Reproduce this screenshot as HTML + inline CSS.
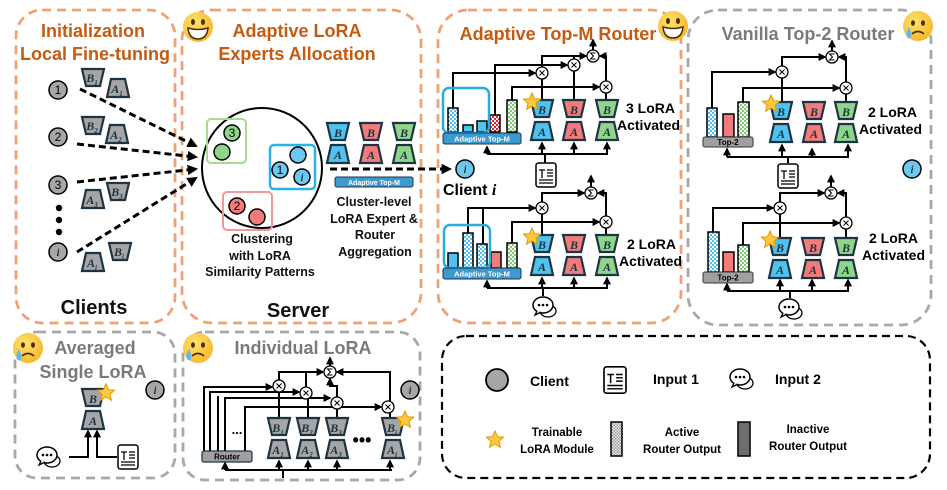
<!DOCTYPE html>
<html><head><meta charset="utf-8"><style>
html,body{margin:0;padding:0;background:#fff;width:947px;height:490px;overflow:hidden}
svg{display:block;font-family:"Liberation Sans",sans-serif}
.ob{fill:none;stroke:#F0A276;stroke-width:2.8;stroke-dasharray:9 6}
.gb{fill:none;stroke:#A8A8A8;stroke-width:2.8;stroke-dasharray:9 6}
.t1{font-weight:bold;fill:#C55A11;font-size:18px;text-anchor:middle}
.tg{font-weight:bold;fill:#7a7a7a;font-size:18px;text-anchor:middle}
.bk{font-weight:bold;fill:#111;text-anchor:middle}
.L{font-family:"Liberation Serif",serif;font-style:italic;font-weight:bold;font-size:12px;fill:#1e3442;text-anchor:middle}
.c{fill:none;stroke:#000;stroke-width:2}
.ca{fill:none;stroke:#000;stroke-width:2;marker-end:url(#ah)}
.bar{stroke:#000;stroke-width:1.5}
use.tr{stroke:#1e3442;stroke-width:2.2}
</style></head><body>
<svg width="947" height="490" viewBox="0 0 947 490" xmlns="http://www.w3.org/2000/svg">
<defs>
<marker id="ah" viewBox="0 0 10 10" refX="8" refY="5" markerWidth="4" markerHeight="4" orient="auto"><path d="M0,0 L10,5 L0,10z" fill="#000"/></marker>
<marker id="ahb" viewBox="0 0 10 10" refX="8" refY="5" markerWidth="3.5" markerHeight="3.5" orient="auto"><path d="M0,0 L10,5 L0,10z" fill="#000"/></marker>
<polygon id="tB" points="0,0 22,0 18,17 4,17"/>
<polygon id="tA" points="4,0 18,0 22,18 0,18"/>
<pattern id="pb" width="4" height="4" patternUnits="userSpaceOnUse"><rect width="4" height="4" fill="#fff"/><rect width="2" height="2" fill="#4fc3ee"/><rect x="2" y="2" width="2" height="2" fill="#4fc3ee"/></pattern>
<pattern id="pr" width="4" height="4" patternUnits="userSpaceOnUse"><rect width="4" height="4" fill="#fff"/><rect width="2" height="2" fill="#e8202a"/><rect x="2" y="2" width="2" height="2" fill="#e8202a"/></pattern>
<pattern id="pg" width="4" height="4" patternUnits="userSpaceOnUse"><rect width="4" height="4" fill="#fff"/><rect width="2" height="2" fill="#7ccf74"/><rect x="2" y="2" width="2" height="2" fill="#7ccf74"/></pattern>
<pattern id="pk" width="3" height="3" patternUnits="userSpaceOnUse"><rect width="3" height="3" fill="#eee"/><rect width="1.5" height="1.5" fill="#999"/><rect x="1.5" y="1.5" width="1.5" height="1.5" fill="#999"/></pattern>
<g id="mul"><circle r="6" fill="#fff" stroke="#000" stroke-width="1.3"/><path d="M-2.5,-2.5 L2.5,2.5 M2.5,-2.5 L-2.5,2.5" stroke="#000" stroke-width="1"/></g>
<g id="sig"><circle r="6" fill="#fff" stroke="#000" stroke-width="1.3"/><path d="M2.5,-3 H-2.5 L0.5,0 L-2.5,3 H2.5" fill="none" stroke="#000" stroke-width="1"/></g>
<g id="star"><polygon points="0,-9 2.6,-3.2 8.6,-2.8 4,1.2 5.4,7.3 0,4 -5.4,7.3 -4,1.2 -8.6,-2.8 -2.6,-3.2" fill="#FFC83D" stroke="#E09A00" stroke-width="1"/></g>
<g id="doc"><rect x="-10" y="-12" width="20" height="24" rx="2.5" fill="#fff" stroke="#000" stroke-width="1.5"/><path d="M-7,-5 H-1 M-4,-5 V3 M1,-5 H7 M1,-2 H7 M1,1 H7 M-7,5 H7 M-7,8 H7" stroke="#000" stroke-width="1.3" fill="none"/></g>
<g id="chat"><ellipse cx="5" cy="6" rx="8" ry="6" fill="#fff" stroke="#000" stroke-width="1.3"/><ellipse cx="0" cy="0" rx="10" ry="8" fill="#fff" stroke="#000" stroke-width="1.5"/><path d="M-6,6 L-8,10 L-2,7" fill="#fff" stroke="#000" stroke-width="1.3"/><circle cx="-4" cy="0" r="1.3"/><circle cx="0" cy="0" r="1.3"/><circle cx="4" cy="0" r="1.3"/></g>
<radialGradient id="yg" cx="0.4" cy="0.35" r="0.7"><stop offset="0" stop-color="#FFE36B"/><stop offset="1" stop-color="#F7B52C"/></radialGradient>
<g id="happy"><circle r="15" fill="url(#yg)"/><ellipse cx="-5" cy="-5" rx="2" ry="3" fill="#4a3000"/><ellipse cx="5" cy="-5" rx="2" ry="3" fill="#4a3000"/><path d="M-10,1 Q0,4 10,1 Q9,12 0,12 Q-9,12 -10,1z" fill="#fff" stroke="#4a3000" stroke-width="1.5"/></g>
<g id="sad"><circle r="15" fill="url(#yg)"/><ellipse cx="-5" cy="-3" rx="2" ry="2.8" fill="#4a3000"/><ellipse cx="5" cy="-3" rx="2" ry="2.8" fill="#4a3000"/><path d="M-6,8 Q0,3 6,8" fill="none" stroke="#4a3000" stroke-width="1.6"/><path d="M-9,1 Q-13,8 -11,11 Q-9,14 -7,11 Q-6,8 -9,1z" fill="#5fb8f0"/></g>
</defs>

<rect class="ob" x="16" y="10" width="159" height="313" rx="26"/>
<rect class="ob" x="182" y="10" width="239" height="313" rx="30"/>
<rect class="ob" x="438" y="10" width="243" height="313" rx="30"/>
<rect class="gb" x="688" y="10" width="243" height="315" rx="30"/>
<rect class="gb" x="15" y="332" width="160" height="146" rx="22"/>
<rect class="gb" x="183" y="332" width="237" height="148" rx="22"/>
<rect x="442" y="336" width="488" height="142" rx="24" fill="none" stroke="#000" stroke-width="2.2" stroke-dasharray="8 5"/>

<text class="t1" x="93" y="37">Initialization</text>
<text class="t1" x="95" y="60">Local Fine-tuning</text>
<g stroke="#000" stroke-width="1.5" fill="#a6a6a6">
<circle cx="58" cy="90" r="9"/><circle cx="58" cy="137" r="9"/><circle cx="58" cy="185" r="9"/><circle cx="58" cy="252" r="9"/>
</g>
<g font-size="12" text-anchor="middle" fill="#000"><text x="58" y="94">1</text><text x="58" y="141">2</text><text x="58" y="189">3</text><text x="58" y="256" font-family="Liberation Serif" font-style="italic">i</text></g>
<circle cx="59" cy="208" r="3.2"/><circle cx="59" cy="220" r="3.2"/><circle cx="59" cy="232" r="3.2"/>
<g fill="#a6a6a6"><use class="tr" href="#tB" x="82" y="69"/><use class="tr" href="#tA" x="107" y="79"/><use class="tr" href="#tB" x="82" y="117"/><use class="tr" href="#tA" x="106" y="125"/><use class="tr" href="#tA" x="82" y="190"/><use class="tr" href="#tB" x="107" y="183"/><use class="tr" href="#tA" x="82" y="253"/><use class="tr" href="#tB" x="109" y="243"/></g>
<g class="L"><text x="92" y="82">B<tspan font-size="7" dy="3">1</tspan></text><text x="117" y="93">A<tspan font-size="7" dy="3">1</tspan></text>
<text x="92" y="130">B<tspan font-size="7" dy="3">2</tspan></text><text x="116" y="139">A<tspan font-size="7" dy="3">2</tspan></text>
<text x="92" y="204">A<tspan font-size="7" dy="3">3</tspan></text><text x="117" y="196">B<tspan font-size="7" dy="3">3</tspan></text>
<text x="92" y="267">A<tspan font-size="7" dy="3">i</tspan></text><text x="119" y="256">B<tspan font-size="7" dy="3">i</tspan></text></g>
<g stroke="#000" stroke-width="3" stroke-dasharray="7 4" fill="none" marker-end="url(#ahb)">
<path d="M80,89 L196,146"/><path d="M77,144 L196,157"/><path d="M77,182 L196,169"/><path d="M77,252 L196,178"/></g>
<text class="bk" x="94" y="314" font-size="20">Clients</text>

<use href="#happy" x="198" y="27"/>
<text class="t1" x="297" y="37">Adaptive LoRA</text>
<text class="t1" x="297" y="60">Experts Allocation</text>
<circle cx="262" cy="168" r="60" fill="none" stroke="#000" stroke-width="2"/>
<rect x="207" y="119" width="39" height="44" rx="4" fill="none" stroke="#A6DB92" stroke-width="2"/>
<rect x="270" y="145" width="45" height="44" rx="4" fill="none" stroke="#28B4EA" stroke-width="2.5"/>
<rect x="223" y="192" width="49" height="38" rx="4" fill="none" stroke="#F0989A" stroke-width="2"/>
<g stroke="#000" stroke-width="1.5">
<circle cx="232" cy="133" r="8" fill="#8fd68a"/><circle cx="222" cy="152" r="8" fill="#8fd68a"/>
<circle cx="298" cy="155" r="8" fill="#6cc8f0"/><circle cx="280" cy="170" r="8" fill="#6cc8f0"/><circle cx="302" cy="177" r="8" fill="#6cc8f0"/>
<circle cx="237" cy="206" r="8" fill="#f37b7b"/><circle cx="257" cy="217" r="8" fill="#f37b7b"/></g>
<g font-size="12" text-anchor="middle"><text x="232" y="137">3</text><text x="280" y="174">1</text><text x="302" y="181" font-family="Liberation Serif" font-style="italic">i</text><text x="237" y="210">2</text></g>
<g class="bk" font-size="12.5"><text x="262" y="243">Clustering</text><text x="260" y="260">with LoRA</text><text x="260" y="276">Similarity Patterns</text></g>
<use class="tr" href="#tB" x="327" y="123" fill="#4fc3ee"/><use class="tr" href="#tA" x="327" y="145" fill="#4fc3ee"/>
<use class="tr" href="#tB" x="360" y="123" fill="#f37b7b"/><use class="tr" href="#tA" x="360" y="145" fill="#f37b7b"/>
<use class="tr" href="#tB" x="393" y="123" fill="#8fd68a"/><use class="tr" href="#tA" x="393" y="145" fill="#8fd68a"/>
<g class="L"><text x="338" y="137">B</text><text x="338" y="159">A</text><text x="371" y="137">B</text><text x="371" y="159">A</text><text x="404" y="137">B</text><text x="404" y="159">A</text></g>
<path d="M330,169 H450" stroke="#000" stroke-width="3" stroke-dasharray="7 4" fill="none" marker-end="url(#ahb)"/>
<rect x="335" y="177" width="78" height="10" rx="2" fill="#3d9ad0" stroke="#1e3442" stroke-width="1"/>
<text x="374" y="185" font-size="7" font-weight="bold" fill="#fff" text-anchor="middle">Adaptive Top-M</text>
<g class="bk" font-size="12.5"><text x="374" y="206">Cluster-level</text><text x="374" y="223">LoRA Expert &amp;</text><text x="375" y="239">Router</text><text x="375" y="256">Aggregation</text></g>
<text class="bk" x="298" y="317" font-size="20">Server</text>

<circle cx="465" cy="169" r="9" fill="#6cc8f0" stroke="#000" stroke-width="1.5"/><text x="465" y="173" font-size="12" font-family="Liberation Serif" font-style="italic" text-anchor="middle">i</text>
<text x="443" y="195" font-size="16" font-weight="bold">Client <tspan font-family="Liberation Serif" font-style="italic">i</tspan></text>

<text class="t1" x="558" y="40" font-size="20">Adaptive Top-M Router</text>
<use href="#happy" x="673" y="26"/>
<path class="ca" d="M453,108 V73 H535"/><path class="ca" d="M495,115 V65 H567"/><path class="ca" d="M512,100 V87 H599"/>
<path class="c" d="M542,100 V79 M574,100 V71 M606,100 V93"/>
<path class="c" d="M542,67 V56 H586 M574,59 V56"/>
<path class="ca" d="M574,56 H586"/><path class="ca" d="M606,81 V56 H600"/><path class="ca" d="M593,50 V40"/>
<use href="#mul" x="542" y="73"/><use href="#mul" x="574" y="65"/><use href="#mul" x="606" y="87"/><use href="#sig" x="593" y="56"/>
<rect x="448" y="108" width="10" height="24" class="bar" fill="url(#pb)"/>
<rect x="463" y="125" width="10" height="7" class="bar" fill="#4fc3ee"/>
<rect x="477" y="121" width="10" height="11" class="bar" fill="#4fc3ee"/>
<rect x="490" y="115" width="10" height="17" class="bar" fill="url(#pr)"/>
<rect x="507" y="100" width="10" height="32" class="bar" fill="url(#pg)"/>
<rect x="443" y="88" width="46" height="45" rx="6" fill="none" stroke="#29abe2" stroke-width="2.5"/>
<rect x="443" y="133" width="78" height="11" rx="2" fill="#3d9ad0" stroke="#1e3442" stroke-width="1"/>
<text x="482" y="141.5" font-size="7.5" font-weight="bold" fill="#fff" text-anchor="middle">Adaptive Top-M</text>
<use class="tr" href="#tB" x="531" y="100" fill="#4fc3ee"/><use class="tr" href="#tA" x="531" y="122" fill="#4fc3ee"/>
<use class="tr" href="#tB" x="563" y="100" fill="#f37b7b"/><use class="tr" href="#tA" x="563" y="122" fill="#f37b7b"/>
<use class="tr" href="#tB" x="596" y="100" fill="#8fd68a"/><use class="tr" href="#tA" x="596" y="122" fill="#8fd68a"/>
<g class="L"><text x="542" y="114">B</text><text x="542" y="136">A</text><text x="574" y="114">B</text><text x="574" y="136">A</text><text x="607" y="114">B</text><text x="607" y="136">A</text></g>
<use href="#star" x="532" y="102"/>
<path class="c" d="M487,154 H608 M545,154 V163"/>
<path class="ca" d="M487,154 V147"/><path class="ca" d="M542,154 V143"/><path class="ca" d="M574,154 V143"/><path class="ca" d="M607,154 V143"/>
<use href="#doc" x="546" y="175"/>
<text x="626" y="113" font-size="14" font-weight="bold">3 LoRA</text><text x="617" y="130" font-size="14" font-weight="bold">Activated</text>
<path class="ca" d="M468,233 V208 H535"/><path class="c" d="M483,244 V208"/><path class="ca" d="M512,243 V222 H599"/>
<path class="c" d="M542,235 V214 M606,235 V228"/>
<path class="ca" d="M542,202 V193 H584"/><path class="ca" d="M606,216 V193 H598"/><path class="ca" d="M591,187 V176"/>
<use href="#mul" x="542" y="208"/><use href="#mul" x="606" y="222"/><use href="#sig" x="591" y="193"/>
<rect x="448" y="253" width="10" height="15" class="bar" fill="#4fc3ee"/>
<rect x="463" y="233" width="10" height="35" class="bar" fill="url(#pb)"/>
<rect x="477" y="244" width="10" height="24" class="bar" fill="url(#pb)"/>
<rect x="491" y="252" width="10" height="16" class="bar" fill="#f37b7b"/>
<rect x="507" y="243" width="10" height="25" class="bar" fill="url(#pg)"/>
<rect x="444" y="225" width="46" height="43" rx="6" fill="none" stroke="#29abe2" stroke-width="2.5"/>
<rect x="443" y="268" width="78" height="11" rx="2" fill="#3d9ad0" stroke="#1e3442" stroke-width="1"/>
<text x="482" y="276.5" font-size="7.5" font-weight="bold" fill="#fff" text-anchor="middle">Adaptive Top-M</text>
<use class="tr" href="#tB" x="531" y="235" fill="#4fc3ee"/><use class="tr" href="#tA" x="531" y="257" fill="#4fc3ee"/>
<use class="tr" href="#tB" x="563" y="235" fill="#f37b7b"/><use class="tr" href="#tA" x="563" y="257" fill="#f37b7b"/>
<use class="tr" href="#tB" x="596" y="235" fill="#8fd68a"/><use class="tr" href="#tA" x="596" y="257" fill="#8fd68a"/>
<g class="L"><text x="542" y="249">B</text><text x="542" y="271">A</text><text x="574" y="249">B</text><text x="574" y="271">A</text><text x="607" y="249">B</text><text x="607" y="271">A</text></g>
<use href="#star" x="532" y="237"/>
<path class="c" d="M487,288 H608 M543,288 V296"/>
<path class="ca" d="M487,288 V281"/><path class="ca" d="M542,288 V278"/><path class="ca" d="M574,288 V278"/><path class="ca" d="M607,288 V278"/>
<use href="#chat" x="543" y="305"/>
<text x="627" y="249" font-size="14" font-weight="bold">2 LoRA</text><text x="619" y="266" font-size="14" font-weight="bold">Activated</text>

<text class="tg" x="808" y="40" font-size="20">Vanilla Top-2 Router</text>
<use href="#sad" x="918" y="26"/>
<path class="ca" d="M712,108 V72 H775"/><path class="ca" d="M743,102 V88 H839"/>
<path class="c" d="M782,102 V78 M846,102 V94"/>
<path class="ca" d="M782,66 V57 H825"/><path class="ca" d="M846,82 V57 H839"/><path class="ca" d="M832,51 V41"/>
<use href="#mul" x="782" y="72"/><use href="#mul" x="846" y="88"/><use href="#sig" x="832" y="57"/>
<rect x="707" y="108" width="10" height="29" class="bar" fill="url(#pb)"/>
<rect x="723" y="114" width="11" height="23" class="bar" fill="#f37b7b"/>
<rect x="738" y="102" width="11" height="35" class="bar" fill="url(#pg)"/>
<rect x="703" y="137" width="50" height="10" rx="2" fill="#a0a0a0" stroke="#333" stroke-width="1"/>
<text x="728" y="145" font-size="8" font-weight="bold" text-anchor="middle">Top-2</text>
<use class="tr" href="#tB" x="770" y="102" fill="#4fc3ee"/><use class="tr" href="#tA" x="770" y="124" fill="#4fc3ee"/>
<use class="tr" href="#tB" x="803" y="102" fill="#f37b7b"/><use class="tr" href="#tA" x="803" y="124" fill="#f37b7b"/>
<use class="tr" href="#tB" x="835" y="102" fill="#8fd68a"/><use class="tr" href="#tA" x="835" y="124" fill="#8fd68a"/>
<g class="L"><text x="781" y="116">B</text><text x="781" y="138">A</text><text x="814" y="116">B</text><text x="814" y="138">A</text><text x="846" y="116">B</text><text x="846" y="138">A</text></g>
<use href="#star" x="771" y="104"/>
<path class="c" d="M727,157 H849 M788,157 V163"/>
<path class="ca" d="M727,157 V149"/><path class="ca" d="M782,157 V145"/><path class="ca" d="M812,157 V149"/><path class="ca" d="M848,157 V145"/>
<use href="#doc" x="788" y="176"/>
<text x="868" y="117" font-size="14" font-weight="bold">2 LoRA</text><text x="859" y="134" font-size="14" font-weight="bold">Activated</text>
<circle cx="912" cy="169" r="9" fill="#6cc8f0" stroke="#000" stroke-width="1.5"/><text x="912" y="173" font-size="12" font-family="Liberation Serif" font-style="italic" text-anchor="middle">i</text>
<path class="ca" d="M713,232 V208 H773"/><path class="ca" d="M743,245 V223 H839"/>
<path class="c" d="M780,238 V214 M846,238 V229"/>
<path class="ca" d="M780,202 V193 H824"/><path class="ca" d="M846,217 V193 H838"/><path class="ca" d="M831,187 V176"/>
<use href="#mul" x="780" y="208"/><use href="#mul" x="846" y="223"/><use href="#sig" x="831" y="193"/>
<rect x="708" y="232" width="11" height="40" class="bar" fill="url(#pb)"/>
<rect x="723" y="252" width="11" height="20" class="bar" fill="#f37b7b"/>
<rect x="738" y="245" width="11" height="27" class="bar" fill="url(#pg)"/>
<rect x="703" y="272" width="50" height="11" rx="2" fill="#a0a0a0" stroke="#333" stroke-width="1"/>
<text x="728" y="280.5" font-size="8" font-weight="bold" text-anchor="middle">Top-2</text>
<use class="tr" href="#tB" x="769" y="238" fill="#4fc3ee"/><use class="tr" href="#tA" x="769" y="260" fill="#4fc3ee"/>
<use class="tr" href="#tB" x="802" y="238" fill="#f37b7b"/><use class="tr" href="#tA" x="802" y="260" fill="#f37b7b"/>
<use class="tr" href="#tB" x="835" y="238" fill="#8fd68a"/><use class="tr" href="#tA" x="835" y="260" fill="#8fd68a"/>
<g class="L"><text x="780" y="252">B</text><text x="780" y="274">A</text><text x="813" y="252">B</text><text x="813" y="274">A</text><text x="846" y="252">B</text><text x="846" y="274">A</text></g>
<use href="#star" x="770" y="240"/>
<path class="c" d="M727,291 H849 M790,291 V298"/>
<path class="ca" d="M727,291 V284"/><path class="ca" d="M780,291 V280"/><path class="ca" d="M812,291 V280"/><path class="ca" d="M848,291 V280"/>
<use href="#chat" x="789" y="307"/>
<text x="869" y="243" font-size="14" font-weight="bold">2 LoRA</text><text x="862" y="260" font-size="14" font-weight="bold">Activated</text>

<use href="#sad" x="28" y="348"/>
<text class="tg" x="95" y="354">Averaged</text>
<text class="tg" x="93" y="378">Single LoRA</text>
<use class="tr" href="#tB" x="82" y="389" fill="#a6a6a6"/><use class="tr" href="#tA" x="82" y="411" fill="#a6a6a6"/>
<g class="L"><text x="93" y="403">B</text><text x="93" y="425">A</text></g>
<use href="#star" x="106" y="393"/>
<circle cx="155" cy="390" r="9" fill="#a6a6a6" stroke="#000" stroke-width="1.5"/><text x="155" y="394" font-size="12" font-family="Liberation Serif" font-style="italic" text-anchor="middle">i</text>
<use href="#chat" x="47" y="455"/><use href="#doc" x="128" y="457"/>
<path class="ca" d="M69,457 H88 V431"/><path class="ca" d="M117,457 H97 V431"/>

<use href="#sad" x="198" y="348"/>
<text class="tg" x="303" y="354">Individual LoRA</text>
<path class="ca" d="M204,451 V387 H272"/><path class="ca" d="M210,451 V392 H299"/><path class="c" d="M218,451 V396"/><path class="ca" d="M225,451 V398 H330"/><path class="ca" d="M245,451 V407 H381"/>
<path class="c" d="M279,418 V392 M308,418 V399 M337,418 V409 M390,418 V413"/>
<path class="ca" d="M279,380 V372 H323"/><path class="c" d="M306,387 V372"/><path class="ca" d="M337,397 V386 H330 V379"/><path class="ca" d="M390,401 V372 H337"/><path class="ca" d="M330,366 V358"/>
<use href="#mul" x="279" y="386"/><use href="#mul" x="306" y="393"/><use href="#mul" x="337" y="403"/><use href="#mul" x="388" y="407"/><use href="#sig" x="330" y="372"/>
<rect x="202" y="451" width="50" height="11" rx="2" fill="#a0a0a0" stroke="#1e3442" stroke-width="1.2"/>
<text x="227" y="459.5" font-size="8" font-weight="bold" text-anchor="middle">Router</text>
<text x="237" y="434" font-size="13" font-weight="bold" text-anchor="middle">...</text>
<text x="362" y="446" font-size="18" font-weight="bold" text-anchor="middle">•••</text>
<g fill="#a6a6a6"><use class="tr" href="#tB" x="268" y="418"/><use class="tr" href="#tA" x="268" y="440"/><use class="tr" href="#tB" x="297" y="418"/><use class="tr" href="#tA" x="297" y="440"/><use class="tr" href="#tB" x="326" y="418"/><use class="tr" href="#tA" x="326" y="440"/><use class="tr" href="#tB" x="382" y="418"/><use class="tr" href="#tA" x="382" y="440"/></g>
<g class="L"><text x="278" y="432">B<tspan font-size="7" dy="3">1</tspan></text><text x="278" y="454">A<tspan font-size="7" dy="3">1</tspan></text>
<text x="307" y="432">B<tspan font-size="7" dy="3">2</tspan></text><text x="307" y="454">A<tspan font-size="7" dy="3">2</tspan></text>
<text x="336" y="432">B<tspan font-size="7" dy="3">3</tspan></text><text x="336" y="454">A<tspan font-size="7" dy="3">3</tspan></text>
<text x="392" y="432">B<tspan font-size="7" dy="3">i</tspan></text><text x="392" y="454">A<tspan font-size="7" dy="3">i</tspan></text></g>
<use href="#star" x="405" y="420"/>
<circle cx="410" cy="390" r="9" fill="#a6a6a6" stroke="#000" stroke-width="1.5"/><text x="410" y="394" font-size="12" font-family="Liberation Serif" font-style="italic" text-anchor="middle">i</text>
<path class="c" d="M225,470 H392 M283,470 V478"/>
<path class="ca" d="M225,470 V463"/><path class="ca" d="M279,470 V461"/><path class="ca" d="M308,470 V461"/><path class="ca" d="M337,470 V461"/><path class="ca" d="M390,470 V461"/>

<circle cx="497" cy="380" r="11" fill="#a6a6a6" stroke="#000" stroke-width="1.8"/>
<text x="530" y="386" font-size="14" font-weight="bold">Client</text>
<g transform="translate(615,380) scale(1.1)"><use href="#doc"/></g>
<text x="653" y="384" font-size="14" font-weight="bold">Input 1</text>
<use href="#chat" x="740" y="377"/>
<text x="775" y="384" font-size="14" font-weight="bold">Input 2</text>
<use href="#star" x="495" y="440"/>
<g font-size="11.5" font-weight="bold" text-anchor="middle"><text x="557" y="436">Trainable</text><text x="557" y="453">LoRA Module</text>
<text x="682" y="436">Active</text><text x="682" y="453">Router Output</text>
<text x="808" y="433">Inactive</text><text x="808" y="450">Router Output</text></g>
<rect x="611" y="422" width="11" height="34" fill="url(#pk)" stroke="#000" stroke-width="1.5"/>
<rect x="738" y="422" width="12" height="34" fill="#6e6e6e" stroke="#000" stroke-width="1.5"/>
</svg>
</body></html>
